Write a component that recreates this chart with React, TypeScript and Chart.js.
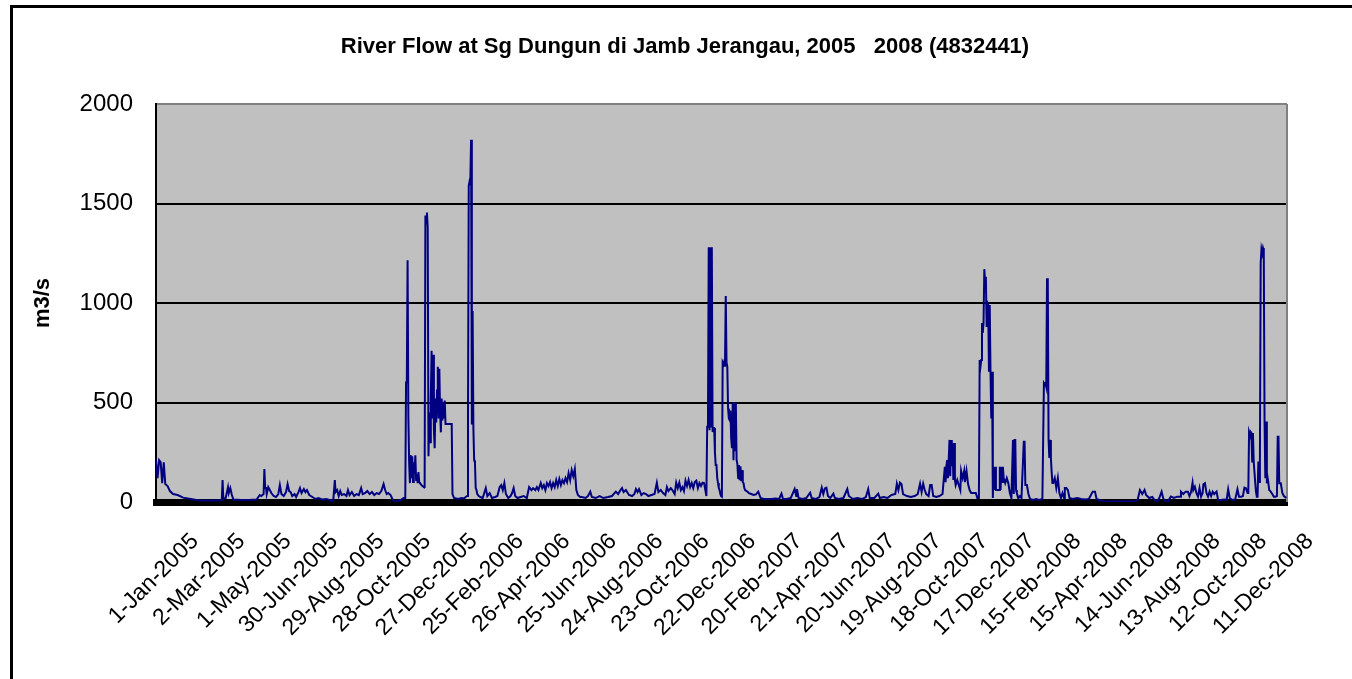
import React, { useEffect, useRef } from 'react';
import { Chart, registerables } from 'chart.js';

Chart.register(...registerables);

// ---------- text ----------
const chartTitle = 'River Flow at Sg Dungun di Jamb Jerangau, 2005   2008 (4832441)';
const yAxisTitle = 'm3/s';

// ---------- axes ----------
// x axis: day number counted from 1-Jan-2005 (day 0) to 31-Dec-2008 (day 1460)
const xTickLabels = [
  '1-Jan-2005', '2-Mar-2005', '1-May-2005', '30-Jun-2005', '29-Aug-2005', '28-Oct-2005',
  '27-Dec-2005', '25-Feb-2006', '26-Apr-2006', '25-Jun-2006', '24-Aug-2006', '23-Oct-2006',
  '22-Dec-2006', '20-Feb-2007', '21-Apr-2007', '20-Jun-2007', '19-Aug-2007', '18-Oct-2007',
  '17-Dec-2007', '15-Feb-2008', '15-Apr-2008', '14-Jun-2008', '13-Aug-2008', '12-Oct-2008',
  '11-Dec-2008',
];
const xTickStepDays = 60;
const xFirstDay = 0;
const xLastDay = 1461;
const yMin = 0;
const yMax = 2000;
const yStep = 500;

// ---------- data: [day since 1-Jan-2005, flow m3/s] ----------
const flow2005: [number, number][] = [
  [0, 210], [2, 120], [4, 210], [6, 200], [8, 95], [10, 200], [12, 90], [15, 80], [18, 55], [22, 40],
  [28, 35], [35, 22], [45, 15], [52, 10], [60, 8], [70, 8], [80, 8], [85, 10], [86, 110], [87, 15],
  [90, 20], [93, 75], [94, 45], [96, 70], [98, 35], [100, 12], [110, 10], [120, 10], [130, 12], [134, 35],
  [136, 30], [139, 40], [140, 166], [141, 70], [142, 75], [143, 40], [145, 75], [147, 60], [149, 45], [152, 30],
  [155, 25], [158, 40], [160, 85], [162, 40], [165, 30], [168, 50], [170, 90], [172, 55], [174, 50], [176, 30],
  [179, 40], [181, 25], [184, 50], [186, 70], [188, 45], [191, 65], [193, 50], [195, 60], [198, 35], [202, 25],
  [206, 15], [210, 20], [215, 12], [220, 15], [224, 10], [227, 2], [229, 10], [231, 110], [232, 50], [234, 60],
  [236, 30], [238, 55], [240, 35], [243, 40], [246, 30], [248, 60], [250, 35], [253, 50], [256, 30], [259, 40],
  [262, 35], [265, 70], [267, 40], [270, 45], [273, 55], [276, 40], [279, 50], [282, 35], [285, 45], [288, 40],
  [291, 55], [294, 90], [296, 60], [298, 40], [300, 45], [303, 35], [306, 10], [308, 2], [312, 5], [316, 10],
  [320, 20], [322, 20], [323, 600], [324, 610], [325, 1215], [326, 425], [327, 200], [328, 95], [329, 236], [330, 120],
  [331, 230], [332, 100], [333, 200], [334, 140], [335, 235], [336, 110], [337, 140], [338, 95], [339, 150], [340, 100],
  [341, 95], [342, 90], [343, 85], [344, 80], [345, 78], [346, 75], [347, 75], [348, 1440], [349, 1400], [350, 1455],
  [351, 1380], [352, 230], [353, 450], [354, 300], [355, 520], [356, 760], [357, 420], [358, 740], [359, 360], [360, 270],
  [361, 520], [362, 400], [363, 560], [364, 680],
];

const flow2006: [number, number][] = [
  [365, 420], [366, 670], [367, 450], [368, 350], [369, 520], [370, 410], [371, 500], [372, 420], [373, 510], [374, 392],
  [382, 392], [383, 40], [385, 20], [390, 15], [395, 20], [398, 18], [400, 25], [402, 30], [403, 390], [404, 1590],
  [405, 1610], [406, 1600], [407, 1820], [408, 390], [409, 960], [410, 370], [411, 210], [412, 200], [413, 70], [414, 60],
  [415, 40], [417, 30], [419, 25], [422, 20], [426, 70], [428, 30], [431, 45], [434, 20], [438, 25], [441, 30],
  [444, 75], [446, 85], [448, 60], [450, 95], [452, 40], [455, 20], [458, 30], [460, 45], [462, 70], [464, 30],
  [467, 20], [471, 25], [475, 30], [479, 20], [482, 75], [485, 60], [487, 70], [490, 60], [492, 75], [494, 60],
  [497, 95], [499, 70], [501, 85], [503, 60], [505, 95], [507, 80], [509, 100], [511, 70], [513, 95], [515, 75],
  [517, 110], [519, 80], [521, 115], [523, 85], [525, 110], [527, 95], [529, 120], [531, 100], [533, 145], [535, 110],
  [537, 160], [539, 130], [541, 166], [543, 60], [545, 35], [548, 25], [550, 25], [555, 20], [558, 30], [561, 52],
  [563, 25], [568, 20], [573, 30], [578, 20], [584, 25], [589, 30], [594, 52], [597, 40], [600, 60], [602, 70],
  [604, 50], [607, 60], [611, 35], [615, 30], [618, 40], [620, 65], [622, 50], [624, 65], [627, 35], [630, 45],
  [633, 40], [636, 30], [640, 35], [644, 40], [647, 97], [649, 50], [652, 60], [655, 45], [658, 35], [660, 75],
  [662, 55], [665, 70], [667, 60], [670, 40], [672, 97], [674, 70], [676, 97], [678, 60], [680, 75], [682, 55],
  [684, 107], [686, 80], [688, 110], [690, 75], [692, 95], [694, 70], [696, 100], [698, 107], [700, 70], [702, 95],
  [704, 80], [706, 97], [708, 95], [711, 30], [712, 378], [713, 380], [714, 1280], [715, 360], [716, 1280], [717, 380],
  [718, 1280], [719, 352], [720, 372], [721, 372], [722, 250], [723, 186], [724, 186], [725, 120], [726, 95], [727, 70],
  [728, 60], [729, 40],
];

const flow2007: [number, number][] = [
  [730, 30], [731, 27], [732, 700], [733, 690], [734, 705], [735, 680], [736, 1035], [737, 700], [738, 680], [739, 470],
  [740, 420], [741, 412], [742, 460], [743, 320], [744, 270], [745, 500], [746, 210], [747, 500], [748, 260], [749, 500],
  [750, 211], [751, 190], [752, 120], [753, 186], [754, 110], [755, 180], [756, 105], [757, 160], [758, 100], [759, 95],
  [760, 70], [761, 60], [763, 55], [766, 45], [769, 40], [772, 35], [775, 38], [778, 52], [781, 20], [785, 15],
  [790, 15], [795, 15], [800, 18], [805, 15], [808, 42], [810, 15], [815, 15], [820, 20], [825, 65], [827, 30],
  [828, 65], [830, 20], [835, 15], [840, 20], [845, 47], [847, 20], [852, 15], [857, 25], [860, 72], [862, 40],
  [864, 68], [866, 72], [868, 30], [871, 20], [875, 42], [877, 20], [882, 15], [888, 20], [893, 65], [895, 30],
  [900, 15], [906, 20], [912, 15], [917, 25], [920, 65], [922, 20], [928, 20], [933, 42], [935, 20], [940, 25],
  [945, 20], [950, 35], [955, 40], [957, 92], [959, 60], [961, 97], [963, 90], [965, 40], [970, 30], [975, 25],
  [980, 30], [984, 40], [987, 92], [989, 50], [991, 92], [993, 60], [995, 40], [998, 30], [1000, 85], [1002, 85],
  [1004, 30], [1008, 25], [1012, 30], [1016, 40], [1019, 177], [1020, 100], [1021, 180], [1022, 211], [1023, 120], [1024, 211],
  [1025, 312], [1026, 130], [1027, 312], [1028, 180], [1029, 296], [1030, 111], [1031, 296], [1032, 111], [1033, 85], [1035, 111],
  [1037, 85], [1039, 60], [1040, 156], [1042, 120], [1044, 156], [1045, 100], [1047, 156], [1049, 90], [1051, 60], [1053, 45],
  [1056, 45], [1059, 45], [1061, 20], [1063, 20], [1064, 713], [1065, 680], [1066, 713], [1067, 900], [1068, 850], [1069, 900],
  [1070, 1170], [1071, 1100], [1072, 1132], [1073, 880], [1074, 1000], [1075, 990], [1076, 655], [1077, 990], [1078, 655], [1079, 420],
  [1080, 655], [1081, 20], [1082, 177], [1083, 60], [1084, 177], [1085, 60], [1087, 60], [1089, 60], [1090, 177], [1091, 60],
  [1092, 177], [1093, 100], [1094, 177],
];

const flow2008: [number, number][] = [
  [1095, 120], [1097, 95], [1099, 120], [1101, 95], [1103, 45], [1105, 20], [1107, 312], [1108, 40], [1109, 312], [1110, 312],
  [1111, 60], [1112, 45], [1114, 20], [1116, 30], [1118, 20], [1121, 303], [1122, 303], [1123, 85], [1125, 85], [1127, 40],
  [1129, 15], [1133, 10], [1137, 15], [1141, 10], [1145, 15], [1147, 597], [1148, 590], [1149, 597], [1150, 580], [1151, 1124],
  [1152, 1100], [1153, 312], [1154, 221], [1155, 312], [1156, 221], [1157, 150], [1158, 95], [1159, 95], [1161, 120], [1163, 70],
  [1165, 120], [1167, 45], [1169, 20], [1171, 45], [1173, 20], [1174, 70], [1176, 70], [1178, 60], [1180, 20], [1184, 15],
  [1190, 20], [1195, 15], [1200, 12], [1205, 15], [1210, 52], [1213, 52], [1215, 15], [1220, 8], [1226, 4], [1235, 3],
  [1245, 4], [1255, 3], [1265, 5], [1268, 10], [1271, 60], [1274, 40], [1277, 60], [1279, 35], [1283, 20], [1287, 25],
  [1290, 10], [1293, 3], [1296, 20], [1299, 52], [1301, 20], [1303, 3], [1307, 2], [1311, 27], [1315, 20], [1319, 27],
  [1323, 27], [1324, 52], [1327, 40], [1330, 52], [1333, 52], [1335, 30], [1337, 50], [1339, 97], [1340, 60], [1342, 77],
  [1344, 45], [1346, 27], [1348, 70], [1350, 27], [1352, 45], [1353, 89], [1355, 94], [1357, 45], [1359, 27], [1361, 52],
  [1363, 30], [1365, 52], [1367, 40], [1370, 52], [1372, 10], [1376, 10], [1380, 12], [1383, 10], [1385, 64], [1387, 20],
  [1390, 10], [1394, 12], [1397, 64], [1399, 27], [1402, 27], [1404, 30], [1406, 72], [1408, 69], [1410, 45], [1411, 45],
  [1412, 353], [1413, 340], [1414, 353], [1415, 347], [1416, 203], [1417, 347], [1418, 203], [1419, 150], [1420, 94], [1421, 50],
  [1422, 27], [1423, 27], [1424, 203], [1425, 100], [1426, 203], [1427, 1200], [1428, 1270], [1429, 1250], [1430, 1276], [1431, 1260],
  [1432, 404], [1433, 120], [1434, 404], [1435, 94], [1436, 120], [1437, 94], [1438, 60], [1440, 52], [1442, 40], [1444, 27],
  [1446, 27], [1448, 30], [1449, 328], [1450, 328], [1451, 94], [1453, 94], [1455, 45], [1457, 30], [1460, 20],
];

const FONT = "'Liberation Sans', Arial, Helvetica, sans-serif";

const plotBackground = {
  id: 'plotBackground',
  beforeDraw(chart: any) {
    const { ctx, chartArea: a } = chart;
    if (!a) return;
    ctx.save();
    ctx.fillStyle = '#C0C0C0';
    ctx.fillRect(a.left, a.top, a.right - a.left, a.bottom - a.top);
    ctx.restore();
  },
  beforeDatasetsDraw(chart: any) {
    const { ctx, chartArea: a } = chart;
    ctx.save();
    ctx.strokeStyle = '#808080';
    ctx.lineWidth = 2;
    ctx.beginPath();
    ctx.moveTo(a.right, a.top);
    ctx.lineTo(a.right, a.bottom);
    ctx.stroke();
    ctx.restore();
  },
};

export default function App() {
  const canvasRef = useRef<HTMLCanvasElement | null>(null);

  useEffect(() => {
    const canvas = canvasRef.current;
    if (!canvas) return;
    const points = [...flow2005, ...flow2006, ...flow2007, ...flow2008].map(([d, v]) => ({ x: d, y: v }));
    const chart = new Chart(canvas, {
      type: 'line',
      data: {
        datasets: [
          {
            label: 'River flow (m3/s)',
            data: points,
            borderColor: '#000080',
            borderWidth: 2,
            pointRadius: 0,
            fill: false,
            tension: 0,
          },
        ],
      },
      plugins: [plotBackground],
      options: {
        responsive: false,
        animation: false,
        events: [],
        layout: { padding: { left: 30, right: 65, top: 104, bottom: 0 } },
        plugins: {
          legend: { display: false },
          title: { display: false },
          tooltip: { enabled: false },
        },
        scales: {
          x: {
            type: 'linear',
            min: xFirstDay,
            max: xLastDay,
            afterFit: (s: any) => { s.height = 177; },
            grid: { display: false, drawTicks: false },
            border: { display: true, color: '#000', width: 7 },
            ticks: {
              stepSize: xTickStepDays,
              includeBounds: false,
              autoSkip: false,
              maxRotation: 45,
              minRotation: 45,
              labelOffset: 39,
              padding: 26,
              color: '#000',
              font: { family: FONT, size: 23 },
              callback: (v: any) => xTickLabels[Math.round(Number(v) / xTickStepDays)] ?? '',
            },
          },
          y: {
            min: yMin,
            max: yMax,
            afterFit: (s: any) => { s.width = 126; },
            grid: {
              drawTicks: false,
              lineWidth: 2,
              color: (c: any) => (c.tick && c.tick.value === yMax ? '#808080' : '#000'),
            },
            border: { display: true, color: '#000', width: 2 },
            ticks: {
              stepSize: yStep,
              padding: 23,
              color: '#000',
              font: { family: FONT, size: 24 },
              callback: (v: any) => String(v),
            },
            title: {
              display: true,
              text: yAxisTitle,
              color: '#000',
              font: { family: FONT, size: 22, weight: 'bold' },
              padding: { top: 0, bottom: 0 },
            },
          },
        },
      },
    });
    return () => chart.destroy();
  }, []);

  return (
    <div style={{ position: 'absolute', left: 0, top: 0, width: 1352, height: 679, background: '#fff', overflow: 'hidden' }}>
      <canvas ref={canvasRef} width={1352} height={679} style={{ position: 'absolute', left: 0, top: 0 }} />
      <div style={{ position: 'absolute', left: 10, top: 5, width: 1400, height: 3, background: '#000' }} />
      <div style={{ position: 'absolute', left: 10, top: 5, width: 3, height: 700, background: '#000' }} />
      <div
        style={{
          position: 'absolute', left: 0, top: 34, width: 1370, textAlign: 'center', whiteSpace: 'pre',
          fontFamily: FONT, fontWeight: 'bold', fontSize: 22, lineHeight: '24px', color: '#000',
        }}
      >
        {chartTitle}
      </div>
    </div>
  );
}
